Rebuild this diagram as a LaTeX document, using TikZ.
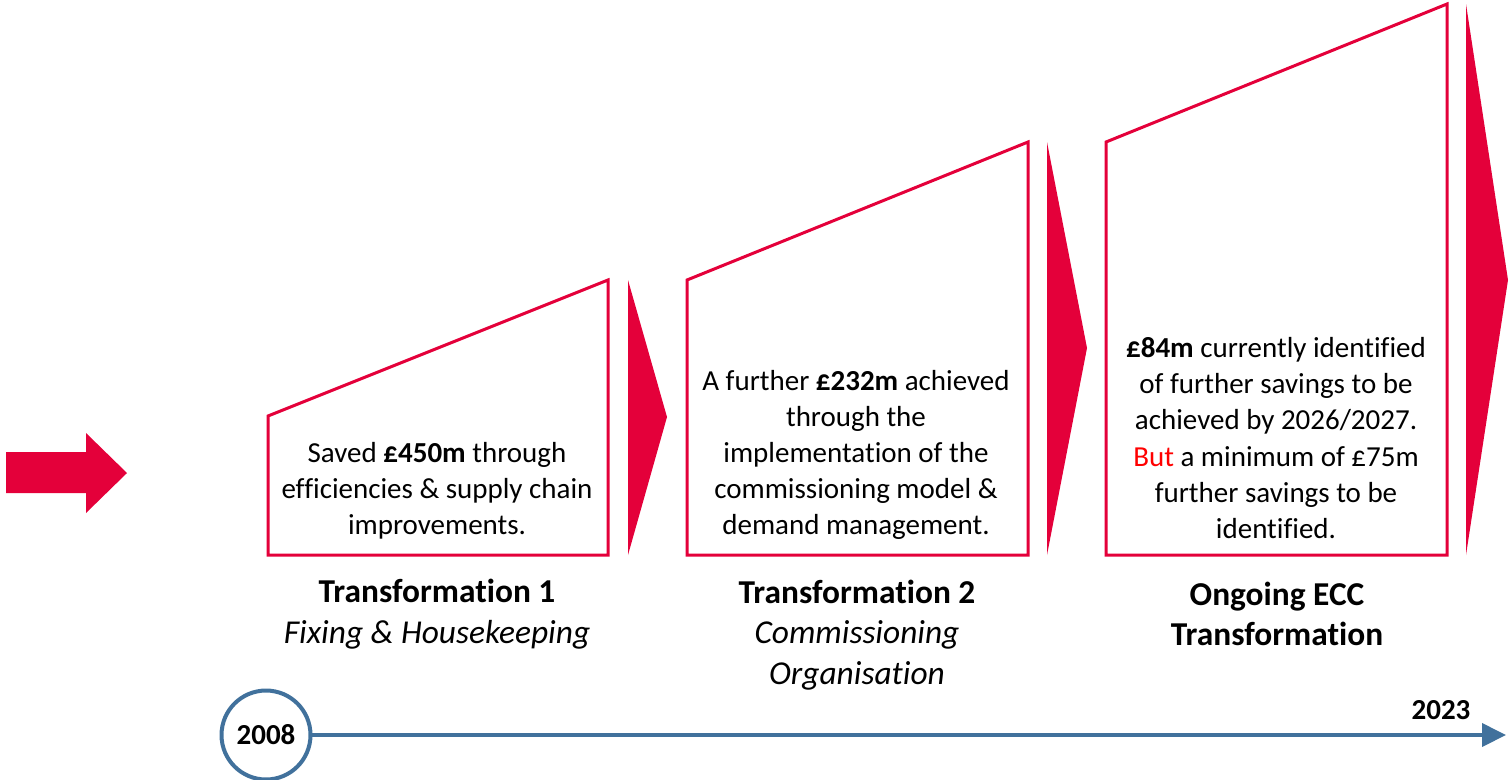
\documentclass[tikz,border=0pt]{standalone}
\usepackage{fontspec}
\setmainfont{Carlito}[Ligatures=NoCommon]
\usetikzlibrary{arrows.meta,positioning}
\definecolor{eccred}{RGB}{228,0,58}
\definecolor{butred}{RGB}{255,0,0}
\definecolor{lineblue}{RGB}{65,113,156}

\begin{document}
\begin{tikzpicture}[x=0.02cm,y=-0.02cm,
    stagebox/.style={draw=eccred,line width=0.06cm},
    chevron/.style={fill=eccred},
    bodytext/.style={align=center,inner sep=0pt,font=\fontsize{16.5}{20.6}\selectfont},
    headtext/.style={align=center,inner sep=0pt,font=\fontsize{19}{23.2}\selectfont},
    yeartext/.style={font=\fontsize{16.5}{20}\selectfont\bfseries}]
  \useasboundingbox (0,0) rectangle (1512,779);
  % big arrow on the left
  \fill[eccred] (6,452) -- (86,452) -- (86,433) -- (127,473) -- (86,513) -- (86,493) -- (6,493) -- cycle;
  % stage 1
  \draw[stagebox] (268,555) -- (268,416) -- (608,280) -- (608,555) -- cycle;
  \fill[chevron] (628,280) -- (667,417) -- (628,555) -- cycle;
  \node[bodytext] (save1) at (437,491) {Saved \textbf{£450m} through\\efficiencies \& supply chain\\improvements.};
  \node[headtext] (head1) at (437,614) {\textbf{Transformation 1}\\\textit{Fixing \& Housekeeping}};
  % stage 2
  \draw[stagebox] (687,555) -- (687,280) -- (1028,142) -- (1028,555) -- cycle;
  \fill[chevron] (1047,142) -- (1087,348) -- (1047,555) -- cycle;
  \node[bodytext] (save2) at (856,455) {A further \textbf{£232m} achieved\\through the\\implementation of the\\commissioning model \&\\demand management.};
  \node[headtext] (head2) at (857,635) {\textbf{Transformation 2}\\\textit{Commissioning}\\\textit{Organisation}};
  % stage 3
  \draw[stagebox] (1106,555) -- (1106,142) -- (1447,4) -- (1447,555) -- cycle;
  \fill[chevron] (1466,4) -- (1508,280) -- (1466,555) -- cycle;
  \node[bodytext] (save3) at (1276,438) {\textbf{£84m} currently identified\\of further savings to be\\achieved by 2026/2027.\\\textcolor{butred}{But} a minimum of £75m\\further savings to be\\identified.};
  \node[headtext] (head3) at (1277,614) {\textbf{Ongoing ECC}\\\textbf{Transformation}};
  % timeline
  \node[draw=lineblue,line width=0.08cm,circle,minimum size=1.78cm,inner sep=0pt,yeartext] (y2008) at (266,735) {2008};
  \coordinate (tlend) at (1506,735);
  \draw[lineblue,line width=0.08cm,-{Triangle[length=0.48cm,width=0.46cm]}] (y2008) -- (tlend);
  \node[yeartext] (y2023) at (1441,710) {2023};
\end{tikzpicture}
\end{document}
